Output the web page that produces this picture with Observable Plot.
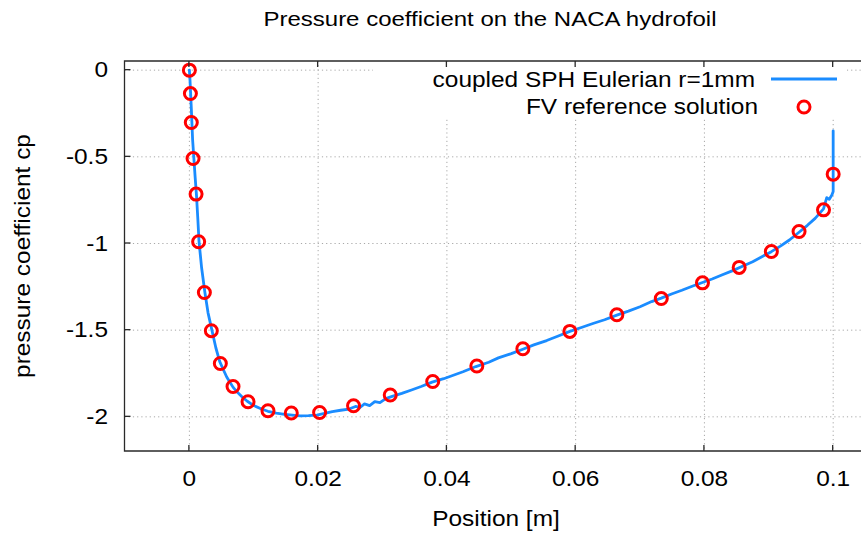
<!DOCTYPE html>
<html><head><meta charset="utf-8">
<script src="https://cdn.jsdelivr.net/npm/d3@7"></script>
<script src="https://cdn.jsdelivr.net/npm/@observablehq/plot@0.6"></script>
<style>body{margin:0;background:#fff}</style>
</head><body><div id="chart"></div>
<script>
const titleText = "Pressure coefficient on the NACA hydrofoil";
const xLabel = "Position [m]";
const yLabel = "pressure coefficient cp";
const seriesNames = ["coupled SPH Eulerian r=1mm", "FV reference solution"];
const xTicks = [0, 0.02, 0.04, 0.06, 0.08, 0.1];
const yTicks = [0, -0.5, -1, -1.5, -2];

// SPH Eulerian curve
const sphX = [0, 0.0001, 0.0002, 0.0003, 0.0004, 0.0005, 0.0007, 0.0009, 0.0011, 0.0013, 0.0015, 0.0019, 0.0024, 0.0029, 0.0035, 0.0041, 0.0047, 0.0053, 0.0058, 0.0063, 0.0068, 0.0075, 0.0082, 0.0090, 0.0100, 0.0112, 0.0122, 0.0135, 0.0148, 0.0160, 0.0172, 0.0185, 0.0198, 0.0210, 0.0222, 0.0235, 0.0248, 0.0258, 0.0265, 0.0272, 0.0280, 0.0288, 0.0296, 0.0305, 0.0315, 0.0330, 0.0345, 0.0360, 0.0377, 0.0395, 0.0410, 0.0425, 0.0445, 0.0465, 0.0480, 0.0500, 0.0518, 0.0535, 0.0555, 0.0572, 0.0591, 0.0610, 0.0628, 0.0645, 0.0664, 0.0682, 0.0700, 0.0718, 0.0733, 0.0750, 0.0765, 0.0782, 0.0797, 0.0812, 0.0828, 0.0845, 0.0860, 0.0875, 0.0890, 0.0904, 0.0918, 0.0932, 0.0947, 0.0960, 0.0972, 0.0985, 0.0990, 0.0994, 0.0998, 0.1000, 0.1000];
const sphY = [0, -0.06, -0.14, -0.22, -0.31, -0.40, -0.51, -0.62, -0.72, -0.85, -0.99, -1.14, -1.28, -1.40, -1.50, -1.60, -1.68, -1.73, -1.77, -1.80, -1.83, -1.86, -1.885, -1.91, -1.935, -1.955, -1.968, -1.978, -1.986, -1.99, -1.994, -1.993, -1.99, -1.98, -1.97, -1.962, -1.955, -1.94, -1.946, -1.925, -1.935, -1.912, -1.918, -1.895, -1.882, -1.865, -1.845, -1.825, -1.80, -1.78, -1.76, -1.74, -1.71, -1.685, -1.66, -1.635, -1.61, -1.585, -1.56, -1.535, -1.507, -1.483, -1.46, -1.44, -1.413, -1.39, -1.365, -1.335, -1.315, -1.29, -1.27, -1.245, -1.225, -1.205, -1.18, -1.155, -1.13, -1.105, -1.075, -1.047, -1.015, -0.98, -0.935, -0.895, -0.855, -0.80, -0.735, -0.745, -0.72, -0.70, -0.35];

// FV reference solution
const fvX = [0, 0.00016, 0.0003, 0.00057, 0.00104, 0.00144, 0.00233, 0.00341, 0.00481, 0.00678, 0.00911, 0.01221, 0.01583, 0.02023, 0.0255, 0.0312, 0.0378, 0.04465, 0.0518, 0.0591, 0.0664, 0.0733, 0.0797, 0.0854, 0.0904, 0.0947, 0.0985, 0.1];
const fvY = [0, -0.135, -0.302, -0.51, -0.715, -0.99, -1.283, -1.503, -1.692, -1.825, -1.913, -1.965, -1.978, -1.975, -1.936, -1.874, -1.796, -1.707, -1.607, -1.507, -1.411, -1.317, -1.227, -1.138, -1.046, -0.931, -0.806, -0.60];

const sph = sphX.map((x, i) => ({x, y: sphY[i]}));
const fv = fvX.map((x, i) => ({x, y: fvY[i]}));

const lineColor = "#1a8cff";
const dotColor = "#ff0000";
const gridStyle = {stroke: "#a8a8a8", strokeOpacity: 1, strokeWidth: 1, strokeDasharray: "1.2,3"};

const dims = d => ({L: d.marginLeft, R: d.width - d.marginRight, T: d.marginTop, B: d.height - d.marginBottom});

const legendBox = (index, scales, values, d) => {
  const g = d3.create("svg:g");
  g.append("rect").attr("x", 373).attr("y", 62).attr("width", 474).attr("height", 57).attr("fill", "white");
  return g.node();
};

const frameMark = (index, {x, y}, values, d) => {
  const {L, R, T, B} = dims(d);
  const g = d3.create("svg:g").attr("fill", "none").attr("stroke", "#2a2a2a").attr("stroke-width", 1.3);
  g.append("path").attr("d", `M${R + 5},${T}H${L}V${B}H${R + 5}`);
  for (const t of xTicks) { const px = x(t); g.append("path").attr("d", `M${px},${B}v-6M${px},${T}v6`); }
  for (const t of yTicks) { const py = y(t); g.append("path").attr("d", `M${L},${py}h6`); }
  return g.node();
};

const labelsMark = (index, scales, values, d) => {
  const {L, R, T, B} = dims(d);
  const g = d3.create("svg:g").attr("fill", "black").attr("font-size", 22);
  g.append("text").attr("class", "stretch-title").attr("x", 490).attr("y", 26).attr("text-anchor", "middle").attr("font-size", 20).text(titleText);
  g.append("text").attr("class", "stretch").attr("x", 496).attr("y", 526).attr("text-anchor", "middle").text(xLabel);
  g.append("text").attr("class", "stretch").attr("transform", `translate(30,${(T + B) / 2}) rotate(-90)`).attr("text-anchor", "middle").text(yLabel);
  return g.node();
};

const legendMark = (index, scales, values, d) => {
  const g = d3.create("svg:g").attr("font-size", 22);
  g.append("text").attr("class", "stretch").attr("x", 755).attr("y", 87).attr("text-anchor", "end").text(seriesNames[0]);
  g.append("line").attr("x1", 771).attr("x2", 837).attr("y1", 79).attr("y2", 79).attr("stroke", lineColor).attr("stroke-width", 2.8);
  g.append("text").attr("class", "stretch").attr("x", 758).attr("y", 114).attr("text-anchor", "end").text(seriesNames[1]);
  g.append("circle").attr("cx", 804).attr("cy", 107).attr("r", 6).attr("fill", "none").attr("stroke", dotColor).attr("stroke-width", 3);
  return g.node();
};

const chart = Plot.plot({
  width: 861,
  height: 534,
  marginLeft: 124.5,
  marginRight: 0,
  marginTop: 61,
  marginBottom: 83,
  style: {fontFamily: "'Liberation Sans', Arial, sans-serif", fontSize: "22px", background: "white", color: "black"},
  x: {domain: [-0.01, 0.1044], ticks: xTicks},
  y: {domain: [-2.2, 0.05], ticks: yTicks},
  marks: [
    Plot.gridX(xTicks, gridStyle),
    Plot.gridY(yTicks, gridStyle),
    legendBox,
    Plot.axisX(xTicks, {tickSize: 0, tickPadding: 19, tickFormat: d => String(d), label: null, fontSize: 22}),
    Plot.axisY(yTicks, {tickSize: 0, tickPadding: 17, tickFormat: d => String(d), label: null, fontSize: 22}),
    Plot.line(sph, {x: "x", y: "y", stroke: lineColor, strokeWidth: 2.8, curve: "linear"}),
    Plot.dot(fv, {x: "x", y: "y", r: 6, stroke: dotColor, strokeWidth: 3, fill: "none"}),
    frameMark,
    labelsMark,
    legendMark
  ]
});
document.getElementById("chart").appendChild(chart);

// widen glyphs horizontally to match the reference's wide rendering
chart.querySelectorAll("text").forEach(t => {
  const len = t.getComputedTextLength();
  if (!len) return;
  const f = t.classList.contains("stretch-title") ? 1.2 : 1.11;
  t.setAttribute("textLength", (len * f).toFixed(1));
  t.setAttribute("lengthAdjust", "spacingAndGlyphs");
});
</script>
</body></html>
